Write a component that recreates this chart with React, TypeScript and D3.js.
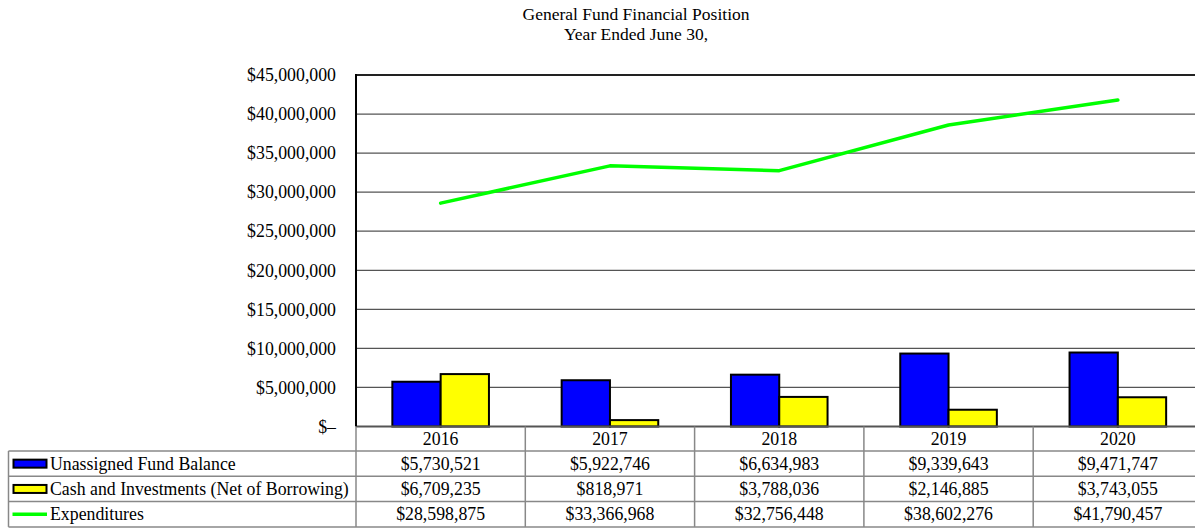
import React from "react";
import * as d3 from "d3";

const years = ["2016", "2017", "2018", "2019", "2020"];
const unassigned = [5730521, 5922746, 6634983, 9339643, 9471747];
const cashInvest = [6709235, 818971, 3788036, 2146885, 3743055];
const expenditures = [28598875, 33366968, 32756448, 38602276, 41790457];
const yTicks = [0, 5000000, 10000000, 15000000, 20000000, 25000000, 30000000, 35000000, 40000000, 45000000];
const seriesNames = ["Unassigned Fund Balance", "Cash and Investments (Net of Borrowing)", "Expenditures"];
const titleLines = ["General Fund Financial Position", "Year Ended June 30,"];

const W = 1195;
const H = 529;
const FONT = "'Liberation Serif', 'Times New Roman', serif";

export default function App() {
  const plotLeft = 356;
  const colW = 169.3;
  const plotRight = plotLeft + colW * years.length;
  const plotTop = 75;
  const plotBottom = 426.5;
  const rowH = 25.3;
  const tableLeft = 8.5;
  const fs = 17.8;

  const x = d3.scaleBand<string>().domain(years).range([plotLeft, plotRight]).padding(0);
  const bw = x.bandwidth();
  const barsW = 96.6;
  const xs = d3.scaleBand<string>().domain(["u", "c"]).range([(bw - barsW) / 2, (bw + barsW) / 2]).padding(0);
  const y = d3.scaleLinear().domain([0, 45000000]).range([plotBottom, plotTop]);

  const fmtMoney = (v: number) => "$" + d3.format(",")(v);
  const fmtTick = (v: number) => (v === 0 ? "$\u2013" : "$" + d3.format(",")(v));

  const line = d3
    .line<number>()
    .x((_, i) => (x(years[i]) as number) + bw / 2)
    .y((d) => y(d));

  const headerBottom = plotBottom + 24.5;
  const rowTops = [0, 1, 2].map((i) => headerBottom + i * rowH);
  const tableBottom = headerBottom + 3 * rowH;
  const rowValues = [unassigned, cashInvest, expenditures];

  return (
    <svg
      width={W}
      height={H}
      style={{ position: "absolute", left: 0, top: 0, background: "#fff" }}
      fontFamily={FONT}
    >
      <rect x={0} y={0} width={W} height={H} fill="#fff" />
      {/* Title */}
      {titleLines.map((t, i) => (
        <text key={t} x={636} y={19.5 + i * 20} textAnchor="middle" fontSize={17.5} fill="#000">
          {t}
        </text>
      ))}

      {/* Gridlines */}
      {yTicks.slice(1, -1).map((t) => (
        <line key={t} x1={plotLeft} x2={plotRight} y1={y(t)} y2={y(t)} stroke="#555" strokeWidth={1.2} />
      ))}
      <line x1={plotLeft} x2={plotRight} y1={y(45000000)} y2={y(45000000)} stroke="#222" strokeWidth={2} />

      {/* Y tick labels */}
      {yTicks.map((t) => (
        <text
          key={t}
          x={336}
          y={y(t)}
          dy="0.35em"
          textAnchor="end"
          fontSize={fs}
          fill="#000"
        >
          {fmtTick(t)}
        </text>
      ))}

      {/* Bars */}
      {years.map((yr, i) => {
        const x0 = x(yr) as number;
        return (
          <g key={yr}>
            <rect
              x={x0 + (xs("u") as number)}
              y={y(unassigned[i])}
              width={xs.bandwidth()}
              height={y(0) - y(unassigned[i])}
              fill="#0000FF"
              stroke="#000"
              strokeWidth={2}
            />
            <rect
              x={x0 + (xs("c") as number)}
              y={y(cashInvest[i])}
              width={xs.bandwidth()}
              height={y(0) - y(cashInvest[i])}
              fill="#FFFF00"
              stroke="#000"
              strokeWidth={2}
            />
          </g>
        );
      })}

      {/* Expenditure line */}
      <path
        d={line(expenditures) || ""}
        fill="none"
        stroke="#00FF00"
        strokeWidth={3.5}
        strokeLinejoin="round"
        strokeLinecap="round"
      />

      {/* Zero axis and left axis */}
      <line x1={plotLeft} x2={plotRight} y1={plotBottom} y2={plotBottom} stroke="#555" strokeWidth={2} />
      <line x1={plotLeft} x2={plotLeft} y1={plotTop - 1} y2={plotBottom} stroke="#000" strokeWidth={2} />

      {/* Table grid */}
      {years.map((yr) => (
        <line
          key={"v" + yr}
          x1={x(yr) as number}
          x2={x(yr) as number}
          y1={plotBottom}
          y2={tableBottom}
          stroke="#888"
          strokeWidth={1.5}
        />
      ))}
      <line x1={plotRight} x2={plotRight} y1={plotBottom} y2={tableBottom} stroke="#888" strokeWidth={1.5} />
      <line x1={tableLeft} x2={tableLeft} y1={headerBottom} y2={tableBottom} stroke="#888" strokeWidth={1.5} />
      {[...rowTops, tableBottom].map((ry, i) => (
        <line key={"h" + i} x1={tableLeft} x2={plotRight} y1={ry} y2={ry} stroke="#888" strokeWidth={1.5} />
      ))}

      {/* Header years */}
      {years.map((yr) => (
        <text
          key={"yr" + yr}
          x={(x(yr) as number) + bw / 2}
          y={plotBottom + 12.5}
          dy="0.35em"
          textAnchor="middle"
          fontSize={fs}
          fill="#000"
        >
          {yr}
        </text>
      ))}

      {/* Legend column */}
      {seriesNames.map((name, i) => {
        const cy = rowTops[i] + rowH / 2;
        return (
          <g key={name}>
            {i < 2 ? (
              <rect
                x={13.5}
                y={cy - 4}
                width={33}
                height={8}
                fill={i === 0 ? "#0000FF" : "#FFFF00"}
                stroke="#000"
                strokeWidth={2}
              />
            ) : (
              <line x1={12.5} x2={47} y1={cy} y2={cy} stroke="#00FF00" strokeWidth={3.5} />
            )}
            <text x={50} y={cy} dy="0.35em" fontSize={fs} fill="#000">
              {name}
            </text>
          </g>
        );
      })}

      {/* Values */}
      {rowValues.map((vals, r) =>
        vals.map((v, i) => (
          <text
            key={r + "-" + i}
            x={(x(years[i]) as number) + bw / 2}
            y={rowTops[r] + rowH / 2}
            dy="0.35em"
            textAnchor="middle"
            fontSize={fs}
            fill="#000"
          >
            {fmtMoney(v)}
          </text>
        ))
      )}
    </svg>
  );
}
